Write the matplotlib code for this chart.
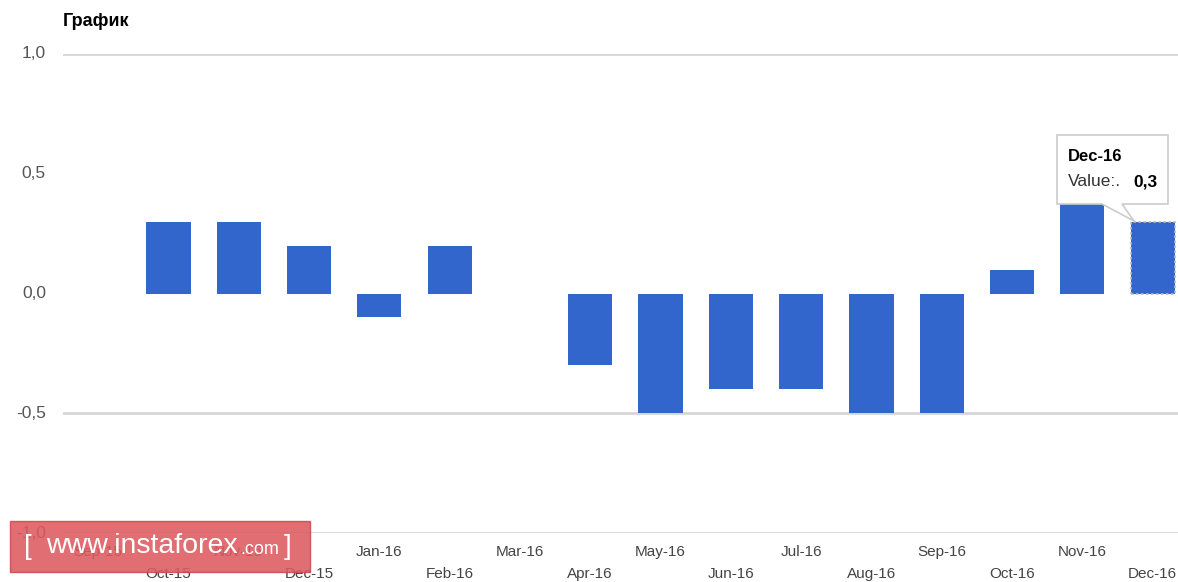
import matplotlib
matplotlib.use("Agg")
import matplotlib.pyplot as plt
from matplotlib.patches import Rectangle, Polygon
import numpy as np

plt.rcParams['font.family'] = ['Liberation Sans', 'DejaVu Sans']

categories = ["Sep-15", "Oct-15", "Nov-15", "Dec-15", "Jan-16", "Feb-16", "Mar-16", "Apr-16",
              "May-16", "Jun-16", "Jul-16", "Aug-16", "Sep-16", "Oct-16", "Nov-16", "Dec-16"]
values = [np.nan, 0.3, 0.3, 0.2, -0.1, 0.2, 0.0, -0.3,
          -0.5, -0.4, -0.4, -0.5, -0.5, 0.1, 0.4, 0.3]
yticks = [-1.0, -0.5, 0.0, 0.5, 1.0]
ytick_labels = ["-1,0", "-0,5", "0,0", "0,5", "1,0"]
title = "График"
tooltip_cat = "Dec-16"
tooltip_val = "0,3"

W, H = 1178, 582
fig = plt.figure(figsize=(W / 100, H / 100), dpi=100)

def fx(px):
    return px / W

def fy(py):
    return 1 - py / H

band = 70.3
left_px = 63
right_px = left_px + band * len(categories)
top_px, bottom_px = 54, 533
ax = fig.add_axes([fx(left_px), fy(bottom_px), fx(right_px - left_px), (bottom_px - top_px) / H])

x = np.arange(len(categories))
bar_color = "#3366CC"
bars = ax.bar(x, values, width=0.63, color=bar_color, linewidth=0, zorder=3)
bars[-1].set_edgecolor("#bbbbbb")
bars[-1].set_linestyle((0, (1.5, 1.5)))
bars[-1].set_linewidth(1.2)

ax.set_xlim(-0.5, len(categories) - 0.5)
ax.set_ylim(-1.0, 1.0)
for yv in [1.0, -0.5, -1.0]:
    ax.axhline(yv, color="#d6d6d6", linewidth=2, zorder=1)

for s in ax.spines.values():
    s.set_visible(False)
ax.set_xticks([])
ax.set_yticks([])

inv = fig.transFigure.inverted()

# y tick labels
for yv, lab in zip(yticks, ytick_labels):
    yf = inv.transform(ax.transData.transform((0, yv)))[1]
    fig.text(fx(46), yf, lab, fontsize=12.5, color="#555555", ha="right", va="center", zorder=2)

# x labels, alternating rows
for i, c in enumerate(categories):
    xf = inv.transform(ax.transData.transform((i, 0)))[0]
    yrow = 552 if i % 2 == 0 else 574
    fig.text(xf, fy(yrow), c, fontsize=11, color="#444444", ha="center", va="center", zorder=2)

# title
fig.text(fx(63), fy(22), title, fontsize=13, fontweight="bold", color="#000000",
         ha="left", va="center")

# tooltip
bx0, by0, bx1, by1 = 1057, 135, 1168, 204
tip = Polygon([[fx(bx0), fy(by0)], [fx(bx1), fy(by0)], [fx(bx1), fy(by1)],
               [fx(1122), fy(by1)], [fx(1134), fy(221)], [fx(1102), fy(by1)],
               [fx(bx0), fy(by1)]], closed=True, transform=fig.transFigure,
              facecolor="white", edgecolor="#cccccc", linewidth=1.2, zorder=10)
fig.patches.append(tip)
fig.text(fx(1068), fy(157), tooltip_cat, fontsize=12, fontweight="bold", color="#000000",
         ha="left", va="center", zorder=11)
fig.text(fx(1068), fy(182), "Value:.", fontsize=12.5, color="#333333",
         ha="left", va="center", zorder=11)
fig.text(fx(1133), fy(182), tooltip_val, fontsize=12.5, fontweight="bold", color="#000000",
         ha="left", va="center", zorder=11)

# watermark
wm = Rectangle((fx(10), fy(572)), fx(300), (572 - 521) / H, transform=fig.transFigure,
               facecolor="#dc5a5e", edgecolor="#c94a4e", alpha=0.88, zorder=20)
fig.patches.append(wm)
fig.text(fx(24), fy(547), "[", fontsize=20, color="white", ha="left", va="center", zorder=21)
fig.text(fx(46), fy(546), "www.instaforex", fontsize=20.5, color="white", ha="left",
         va="center", zorder=21)
fig.text(fx(240), fy(550), ".com", fontsize=13, color="white", ha="left", va="center", zorder=21)
fig.text(fx(284), fy(547), "]", fontsize=20, color="white", ha="left", va="center", zorder=21)

fig.savefig("out.png", dpi=100, facecolor="white")
